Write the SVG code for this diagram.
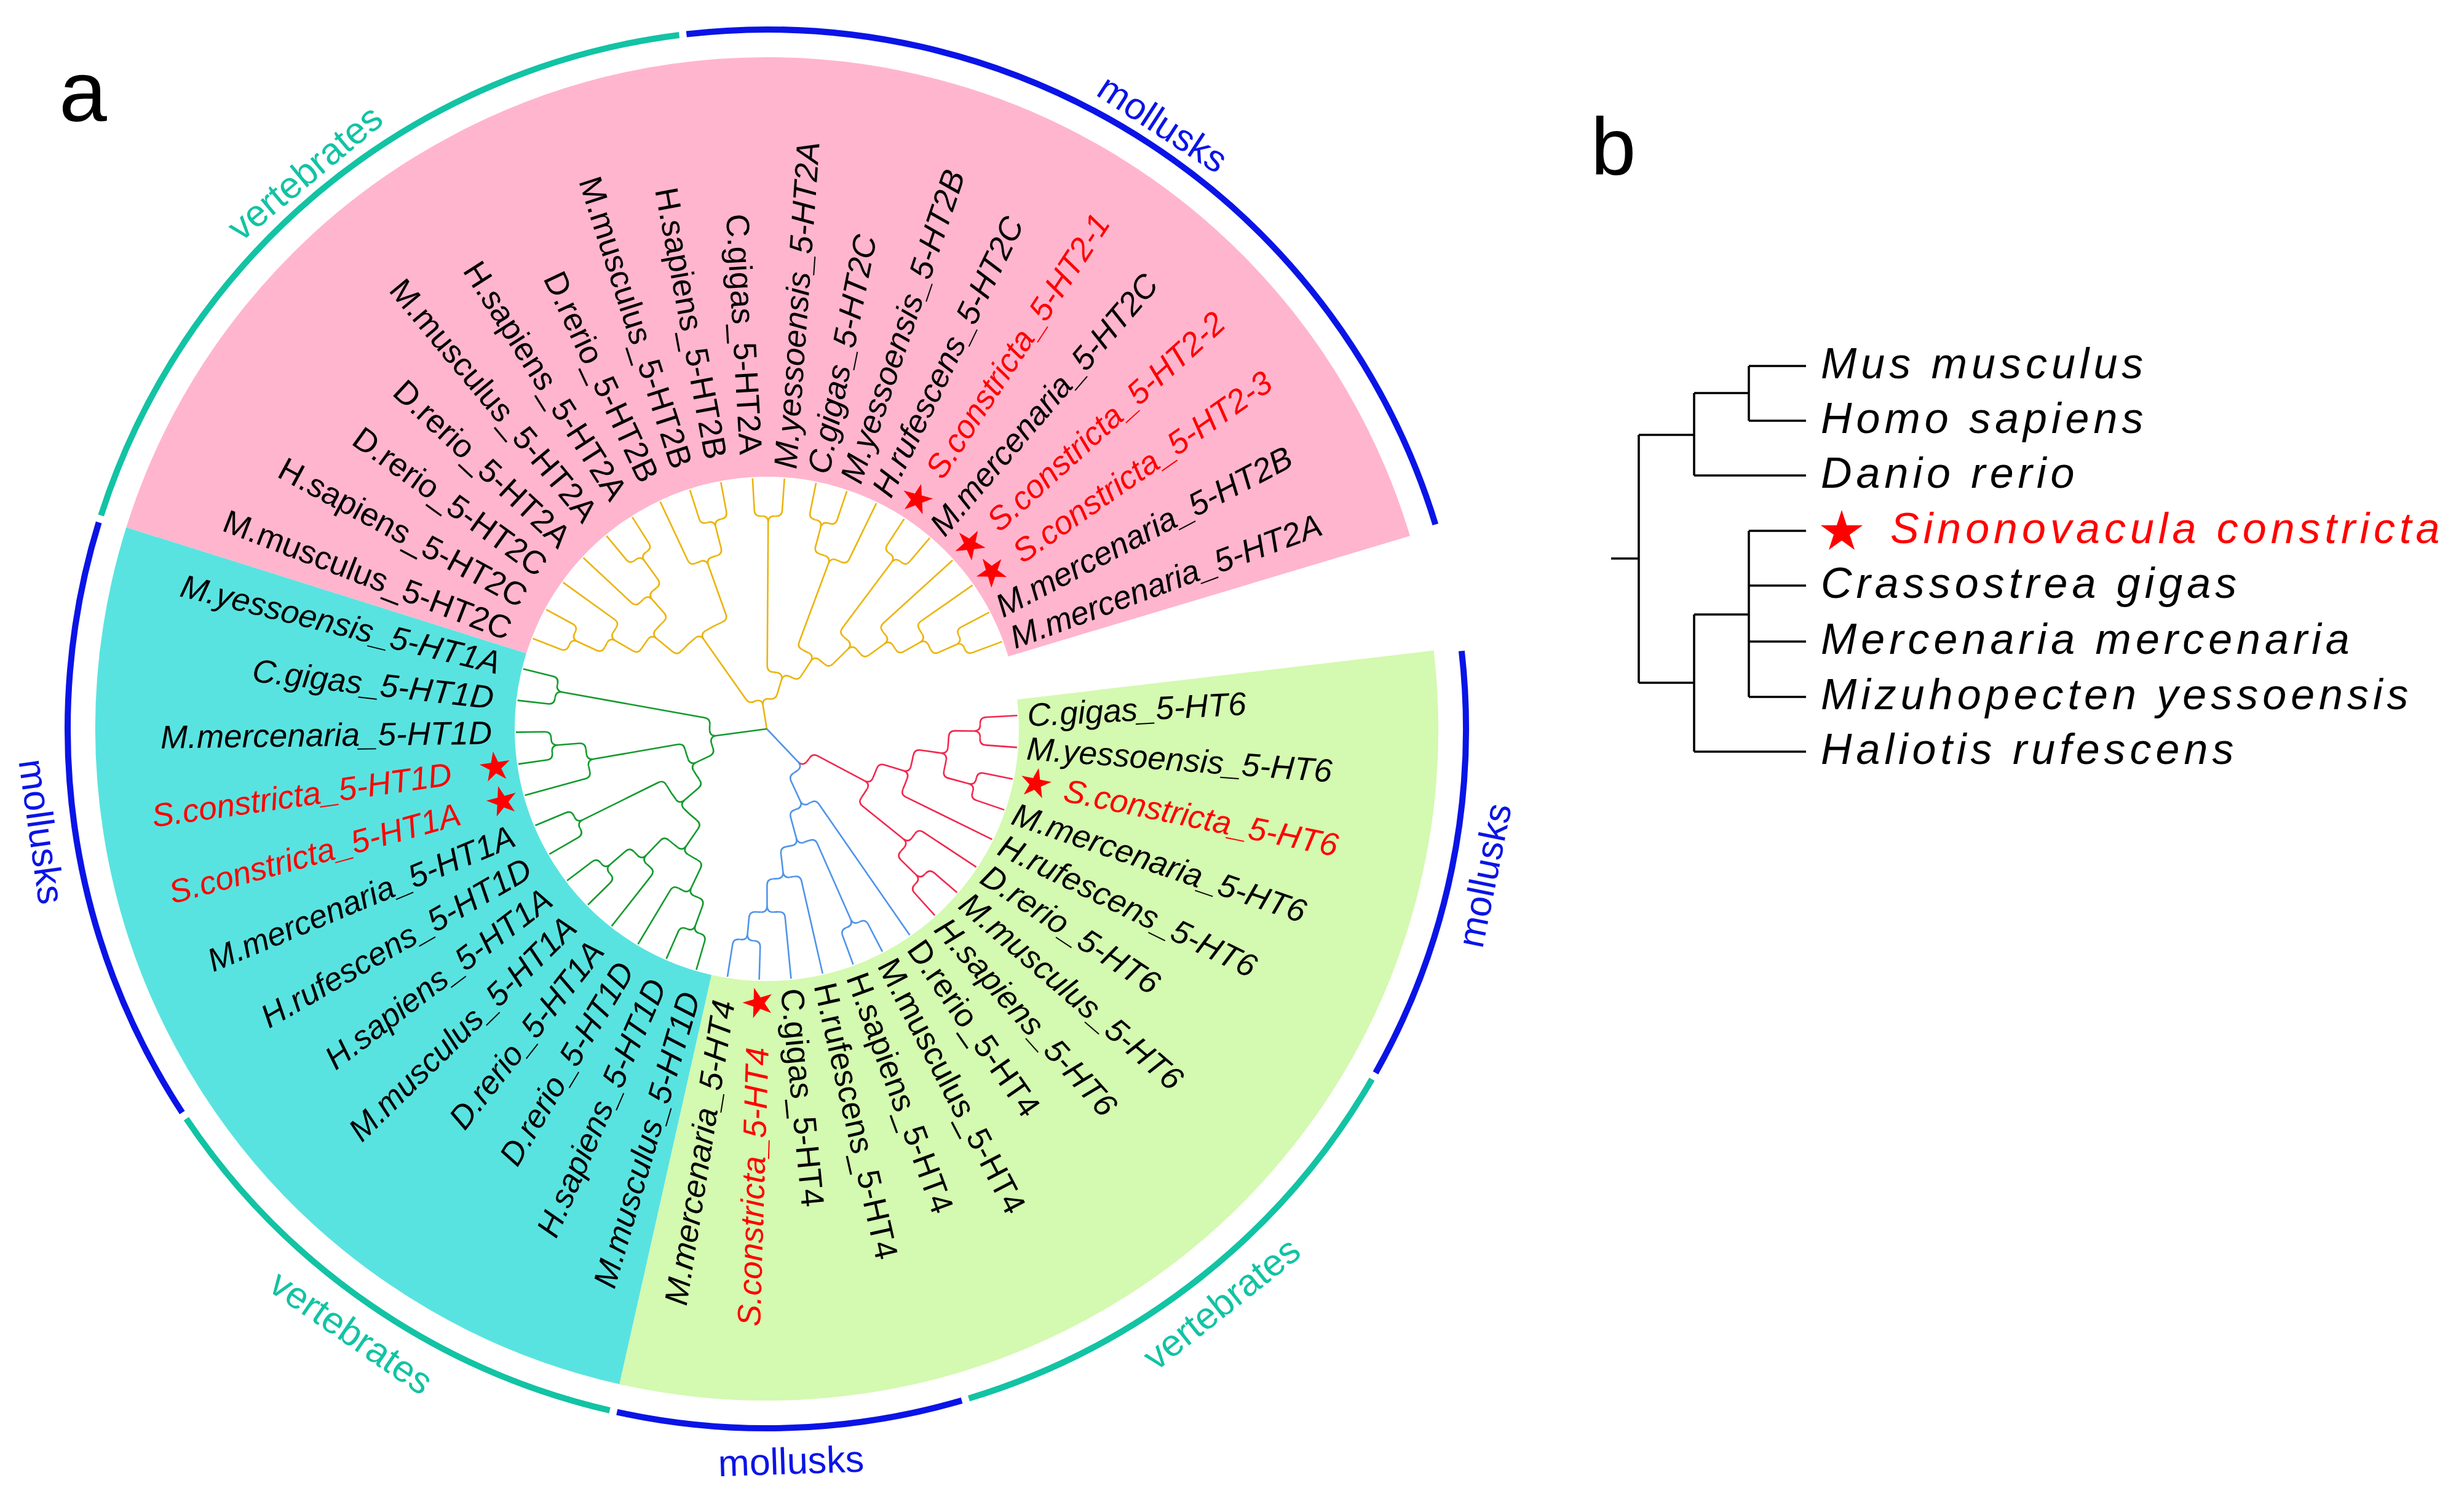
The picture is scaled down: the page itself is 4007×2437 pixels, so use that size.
<svg xmlns="http://www.w3.org/2000/svg" xmlns:xlink="http://www.w3.org/1999/xlink" width="4007" height="2437" viewBox="0 0 4007 2437">
<style>
text{font-family:"Liberation Sans",Arial,sans-serif}
.lab{font-size:53px}
.it{font-style:italic}
.red{fill:#FF0000}
.cn path,.cn circle{fill:none;stroke-width:2.6}
.y path,.y circle{stroke:#EBB40C}
.g path,.g circle{stroke:#139A2E}
.r path,.r circle{stroke:#F2284E}
.bl path,.bl circle{stroke:#4F94EA}
.band{fill:none;stroke-width:682}
.ring{fill:none;stroke-width:10}
.rl{font-size:61px;text-anchor:middle}
.pb{stroke:#000;stroke-width:3.6;fill:none}
.bt{font-size:70px;font-style:italic;letter-spacing:7px}
</style>
<defs>
<path id="star" d="M0,-26L5.84,-8.03L24.73,-8.03L9.44,3.07L15.28,21.03L0,9.93L-15.28,21.03L-9.44,3.07L-24.73,-8.03L-5.84,-8.03Z" fill="#FF0000"/>
</defs>
<rect width="4007" height="2437" fill="#FFFFFF"/>
<text x="96" y="197" font-size="140">a</text>
<text x="2587" y="284" font-size="132">b</text>
<g id="panel-a" transform="translate(1247 1185)">
<g id="bands">
<circle class="band" r="751" stroke="#D4F9B0" pathLength="360" stroke-dasharray="109.38 400" transform="rotate(-6.7)"/>
<circle class="band" r="751" stroke="#59E3E0" pathLength="360" stroke-dasharray="94.79 400" transform="rotate(102.68)"/>
<circle class="band" r="751" stroke="#FFB5CE" pathLength="360" stroke-dasharray="145.83 400" transform="rotate(197.47)"/>
</g>
<g id="ring">
<circle class="ring" r="1137" stroke="#0A14E6" pathLength="360" stroke-dasharray="35.86 400" transform="rotate(-6.4)"/>
<circle class="ring" r="1137" stroke="#12C3A4" pathLength="360" stroke-dasharray="43.15 400" transform="rotate(30.06)"/>
<circle class="ring" r="1137" stroke="#0A14E6" pathLength="360" stroke-dasharray="28.57 400" transform="rotate(73.81)"/>
<circle class="ring" r="1137" stroke="#12C3A4" pathLength="360" stroke-dasharray="43.15 400" transform="rotate(102.98)"/>
<circle class="ring" r="1137" stroke="#0A14E6" pathLength="360" stroke-dasharray="50.44 400" transform="rotate(146.73)"/>
<circle class="ring" r="1137" stroke="#12C3A4" pathLength="360" stroke-dasharray="65.03 400" transform="rotate(197.77)"/>
<circle class="ring" r="1137" stroke="#0A14E6" pathLength="360" stroke-dasharray="79.6 400" transform="rotate(263.4)"/>
<text class="rl" fill="#12C3A4" x="0" y="-1155" transform="rotate(320.29)">vertebrates</text>
<text class="rl" fill="#0A14E6" x="0" y="-1155" transform="rotate(33.2)">mollusks</text>
<text class="rl" fill="#0A14E6" x="0" y="1212" transform="rotate(-78.47)">mollusks</text>
<text class="rl" fill="#12C3A4" x="0" y="1212" transform="rotate(-38.37)">vertebrates</text>
<text class="rl" fill="#0A14E6" x="0" y="1212" transform="rotate(-1.9)">mollusks</text>
<text class="rl" fill="#12C3A4" x="0" y="1212" transform="rotate(34.55)">vertebrates</text>
<text class="rl" fill="#0A14E6" x="0" y="1212" transform="rotate(81.95)">mollusks</text>
</g>
<g id="connectors" class="cn">
<g class="y">
<path transform="rotate(260.76)" d="M0 0L39 0Q49 0 48-10M39 0Q49 0 48 10"/>
<path transform="rotate(234.84)" d="M48 10Q49 0 59 0L178 0Q188 0 188-10M178 0Q188 0 188 10"/>
<path transform="rotate(219.34)" d="M188 10Q188 0 198 0L232 0Q242 0 242-10M232 0Q242 0 242 10"/>
<path transform="rotate(210.23)" d="M242 10Q242 0 252 0L285 0Q295 0 295-10M285 0Q295 0 295 10"/>
<path transform="rotate(204.76)" d="M295 10Q295 0 305 0L339 0Q349 0 349-10M339 0Q349 0 349 10"/>
<path transform="rotate(201.11)" d="M349 10Q349 0 359 0L408 0"/>
<path transform="rotate(208.40)" d="M349-10Q349 0 359 0L408 0"/>
<path transform="rotate(215.70)" d="M295-10Q295 0 305 0L408 0"/>
<path transform="rotate(228.46)" d="M242-10Q242 0 252 0L281 0Q291 0 291-10M281 0Q291 0 291 10"/>
<path transform="rotate(222.99)" d="M291 10Q291 0 301 0L408 0"/>
<path transform="rotate(233.93)" d="M291-10Q291 0 301 0L338 0Q348 0 348-10M338 0Q348 0 348 10"/>
<path transform="rotate(230.28)" d="M348 10Q348 0 358 0L408 0"/>
<path transform="rotate(237.57)" d="M348-10Q348 0 358 0L408 0"/>
<path transform="rotate(250.33)" d="M188-10Q188 0 198 0L283 0Q293 0 293-10M283 0Q293 0 293 10"/>
<path transform="rotate(244.86)" d="M293 10Q293 0 303 0L408 0"/>
<path transform="rotate(255.80)" d="M293-10Q293 0 303 0L339 0Q349 0 349-10M339 0Q349 0 349 10"/>
<path transform="rotate(252.15)" d="M349 10Q349 0 359 0L408 0"/>
<path transform="rotate(259.45)" d="M349-10Q349 0 359 0L408 0"/>
<path transform="rotate(286.68)" d="M48-10Q49 0 59 0L83 0Q93 0 92.5-10M83 0Q93 0 92.5 10"/>
<path transform="rotate(270.38)" d="M92.5 10Q93 0 103 0L336 0Q346 0 346-10M336 0Q346 0 346 10"/>
<path transform="rotate(266.74)" d="M346 10Q346 0 356 0L408 0"/>
<path transform="rotate(274.03)" d="M346-10Q346 0 356 0L408 0"/>
<path transform="rotate(302.97)" d="M92.5-10Q93 0 103 0L131 0Q141 0 141-10M131 0Q141 0 141 10"/>
<path transform="rotate(290.44)" d="M141 10Q141 0 151 0L287 0Q297 0 297-10M287 0Q297 0 297 10"/>
<path transform="rotate(295.90)" d="M297-10Q297 0 307 0L408 0"/>
<path transform="rotate(284.97)" d="M297 10Q297 0 307 0L339 0Q349 0 349-10M339 0Q349 0 349 10"/>
<path transform="rotate(281.32)" d="M349 10Q349 0 359 0L408 0"/>
<path transform="rotate(288.61)" d="M349-10Q349 0 359 0L408 0"/>
<path transform="rotate(315.50)" d="M141-10Q141 0 151 0L185 0Q195 0 195-10M185 0Q195 0 195 10"/>
<path transform="rotate(306.84)" d="M195 10Q195 0 205 0L338 0Q348 0 348-10M338 0Q348 0 348 10"/>
<path transform="rotate(303.20)" d="M348 10Q348 0 358 0L408 0"/>
<path transform="rotate(310.49)" d="M348-10Q348 0 358 0L408 0"/>
<path transform="rotate(324.16)" d="M195-10Q195 0 205 0L236 0Q246 0 246-10M236 0Q246 0 246 10"/>
<path transform="rotate(317.78)" d="M246 10Q246 0 256 0L408 0"/>
<path transform="rotate(330.54)" d="M246-10Q246 0 256 0L286 0Q296 0 296-10M286 0Q296 0 296 10"/>
<path transform="rotate(325.07)" d="M296 10Q296 0 306 0L408 0"/>
<path transform="rotate(336.01)" d="M296-10Q296 0 306 0L337 0Q347 0 347-10M337 0Q347 0 347 10"/>
<path transform="rotate(332.36)" d="M347 10Q347 0 357 0L408 0"/>
<path transform="rotate(339.65)" d="M347-10Q347 0 357 0L408 0"/>
<circle r="49" pathLength="360" transform="rotate(246.53)" stroke-dasharray="2.54 23.38 2.54 400"/>
<circle r="188" pathLength="360" transform="rotate(222.39)" stroke-dasharray="9.4 6.1 9.4 400"/>
<circle r="242" pathLength="360" transform="rotate(212.60)" stroke-dasharray="4.38 4.74 4.38 400"/>
<circle r="295" pathLength="360" transform="rotate(206.70)" stroke-dasharray="1.59 3.88 1.59 400"/>
<circle r="349" pathLength="360" transform="rotate(202.75)" stroke-dasharray="0.37 3.28 0.37 400"/>
<circle r="291" pathLength="360" transform="rotate(224.96)" stroke-dasharray="1.53 3.94 1.53 400"/>
<circle r="348" pathLength="360" transform="rotate(231.93)" stroke-dasharray="0.35 3.3 0.35 400"/>
<circle r="293" pathLength="360" transform="rotate(246.82)" stroke-dasharray="1.55 3.92 1.55 400"/>
<circle r="349" pathLength="360" transform="rotate(253.79)" stroke-dasharray="0.37 3.28 0.37 400"/>
<circle r="93" pathLength="360" transform="rotate(276.54)" stroke-dasharray="3.98 12.32 3.98 400"/>
<circle r="346" pathLength="360" transform="rotate(268.40)" stroke-dasharray="0.33 3.32 0.33 400"/>
<circle r="141" pathLength="360" transform="rotate(294.50)" stroke-dasharray="4.41 8.12 4.41 400"/>
<circle r="297" pathLength="360" transform="rotate(286.90)" stroke-dasharray="1.61 3.86 1.61 400"/>
<circle r="349" pathLength="360" transform="rotate(282.96)" stroke-dasharray="0.37 3.28 0.37 400"/>
<circle r="195" pathLength="360" transform="rotate(309.78)" stroke-dasharray="2.78 5.88 2.78 400"/>
<circle r="348" pathLength="360" transform="rotate(304.85)" stroke-dasharray="0.35 3.3 0.35 400"/>
<circle r="246" pathLength="360" transform="rotate(320.11)" stroke-dasharray="1.72 4.66 1.72 400"/>
<circle r="296" pathLength="360" transform="rotate(327.01)" stroke-dasharray="1.59 3.88 1.59 400"/>
<circle r="347" pathLength="360" transform="rotate(334.01)" stroke-dasharray="0.35 3.3 0.35 400"/>
</g>
<g class="g">
<path transform="rotate(172.40)" d="M0 0L83 0Q93 0 92.5-10M83 0Q93 0 92.5 10"/>
<path transform="rotate(190.18)" d="M92.5-10Q93 0 103 0L338 0Q348 0 348-10M338 0Q348 0 348 10"/>
<path transform="rotate(186.53)" d="M348 10Q348 0 358 0L408 0"/>
<path transform="rotate(193.82)" d="M348-10Q348 0 358 0L408 0"/>
<path transform="rotate(154.63)" d="M92.5 10Q93 0 103 0L127 0Q137 0 137-10M127 0Q137 0 137 10"/>
<path transform="rotate(170.12)" d="M137-10Q137 0 147 0L286 0Q296 0 296-10M286 0Q296 0 296 10"/>
<path transform="rotate(164.65)" d="M296 10Q296 0 306 0L408 0"/>
<path transform="rotate(175.59)" d="M296-10Q296 0 306 0L341 0Q351 0 351-10M341 0Q351 0 351 10"/>
<path transform="rotate(171.95)" d="M351 10Q351 0 361 0L408 0"/>
<path transform="rotate(179.24)" d="M351-10Q351 0 361 0L408 0"/>
<path transform="rotate(139.13)" d="M137 10Q137 0 147 0L177 0Q187 0 187-10M177 0Q187 0 187 10"/>
<path transform="rotate(153.72)" d="M187-10Q187 0 197 0L334 0Q344 0 344-10M334 0Q344 0 344 10"/>
<path transform="rotate(150.07)" d="M344 10Q344 0 354 0L408 0"/>
<path transform="rotate(157.36)" d="M344-10Q344 0 354 0L408 0"/>
<path transform="rotate(124.55)" d="M187 10Q187 0 197 0L231 0Q241 0 241-10M231 0Q241 0 241 10"/>
<path transform="rotate(133.67)" d="M241-10Q241 0 251 0L284 0Q294 0 294-10M284 0Q294 0 294 10"/>
<path transform="rotate(128.20)" d="M294 10Q294 0 304 0L408 0"/>
<path transform="rotate(139.13)" d="M294-10Q294 0 304 0L337 0Q347 0 347-10M337 0Q347 0 347 10"/>
<path transform="rotate(135.49)" d="M347 10Q347 0 357 0L408 0"/>
<path transform="rotate(142.78)" d="M347-10Q347 0 357 0L408 0"/>
<path transform="rotate(115.44)" d="M241 10Q241 0 251 0L286 0Q296 0 296-10M286 0Q296 0 296 10"/>
<path transform="rotate(120.90)" d="M296-10Q296 0 306 0L408 0"/>
<path transform="rotate(109.97)" d="M296 10Q296 0 306 0L340 0Q350 0 350-10M340 0Q350 0 350 10"/>
<path transform="rotate(106.32)" d="M350 10Q350 0 360 0L408 0"/>
<path transform="rotate(113.61)" d="M350-10Q350 0 360 0L408 0"/>
<circle r="93" pathLength="360" transform="rotate(160.79)" stroke-dasharray="5.46 12.32 5.46 400"/>
<circle r="348" pathLength="360" transform="rotate(188.18)" stroke-dasharray="0.35 3.3 0.35 400"/>
<circle r="137" pathLength="360" transform="rotate(143.31)" stroke-dasharray="7.14 8.36 7.14 400"/>
<circle r="296" pathLength="360" transform="rotate(166.59)" stroke-dasharray="1.59 3.88 1.59 400"/>
<circle r="351" pathLength="360" transform="rotate(173.58)" stroke-dasharray="0.39 3.26 0.39 400"/>
<circle r="187" pathLength="360" transform="rotate(127.61)" stroke-dasharray="8.47 6.12 8.47 400"/>
<circle r="344" pathLength="360" transform="rotate(151.74)" stroke-dasharray="0.31 3.34 0.31 400"/>
<circle r="241" pathLength="360" transform="rotate(117.82)" stroke-dasharray="4.36 4.76 4.36 400"/>
<circle r="294" pathLength="360" transform="rotate(130.15)" stroke-dasharray="1.57 3.9 1.57 400"/>
<circle r="347" pathLength="360" transform="rotate(137.14)" stroke-dasharray="0.35 3.3 0.35 400"/>
<circle r="296" pathLength="360" transform="rotate(111.91)" stroke-dasharray="1.59 3.88 1.59 400"/>
<circle r="350" pathLength="360" transform="rotate(107.96)" stroke-dasharray="0.37 3.28 0.37 400"/>
</g>
<g class="r">
<path transform="rotate(46.51)" d="M74 0Q84 0 83.5-10"/>
<path transform="rotate(27.94)" d="M83.5 10Q84 0 94 0L180 0Q190 0 190-10M180 0Q190 0 190 10"/>
<path transform="rotate(17.00)" d="M190 10Q190 0 200 0L232 0Q242 0 242-10M232 0Q242 0 242 10"/>
<path transform="rotate(26.11)" d="M242-10Q242 0 252 0L408 0"/>
<path transform="rotate(7.88)" d="M242 10Q242 0 252 0L286 0Q296 0 296-10M286 0Q296 0 296 10"/>
<path transform="rotate(0.59)" d="M296 10Q296 0 306 0L337 0Q347 0 347-10M337 0Q347 0 347 10"/>
<path transform="rotate(-3.05)" d="M347 10Q347 0 357 0L408 0"/>
<path transform="rotate(4.24)" d="M347-10Q347 0 357 0L408 0"/>
<path transform="rotate(15.18)" d="M296-10Q296 0 306 0L340 0Q350 0 350-10M340 0Q350 0 350 10"/>
<path transform="rotate(11.53)" d="M350 10Q350 0 360 0L408 0"/>
<path transform="rotate(18.82)" d="M350-10Q350 0 360 0L408 0"/>
<path transform="rotate(38.87)" d="M190-10Q190 0 200 0L285 0Q295 0 295-10M285 0Q295 0 295 10"/>
<path transform="rotate(33.40)" d="M295 10Q295 0 305 0L408 0"/>
<path transform="rotate(44.34)" d="M295-10Q295 0 305 0L339 0Q349 0 349-10M339 0Q349 0 349 10"/>
<path transform="rotate(40.70)" d="M349 10Q349 0 359 0L408 0"/>
<path transform="rotate(47.99)" d="M349-10Q349 0 359 0L408 0"/>
<circle r="84" pathLength="360" transform="rotate(34.76)" stroke-dasharray="4.93 400"/>
<circle r="190" pathLength="360" transform="rotate(20.02)" stroke-dasharray="4.9 6.04 4.9 400"/>
<circle r="242" pathLength="360" transform="rotate(10.25)" stroke-dasharray="4.38 4.74 4.38 400"/>
<circle r="296" pathLength="360" transform="rotate(2.53)" stroke-dasharray="3.41 3.88 3.41 400"/>
<circle r="347" pathLength="360" transform="rotate(-1.40)" stroke-dasharray="0.35 3.3 0.35 400"/>
<circle r="350" pathLength="360" transform="rotate(13.17)" stroke-dasharray="0.37 3.28 0.37 400"/>
<circle r="295" pathLength="360" transform="rotate(35.34)" stroke-dasharray="1.59 3.88 1.59 400"/>
<circle r="349" pathLength="360" transform="rotate(42.34)" stroke-dasharray="0.37 3.28 0.37 400"/>
</g>
<g class="bl">
<path transform="rotate(46.51)" d="M0 0L74 0Q84 0 83.5 10"/>
<path transform="rotate(65.08)" d="M83.5-10Q84 0 94 0L129 0Q139 0 139-10M129 0Q139 0 139 10"/>
<path transform="rotate(55.28)" d="M139 10Q139 0 149 0L408 0"/>
<path transform="rotate(74.88)" d="M139-10Q139 0 149 0L184 0Q194 0 194-10M184 0Q194 0 194 10"/>
<path transform="rotate(66.22)" d="M194 10Q194 0 204 0L338 0Q348 0 348-10M338 0Q348 0 348 10"/>
<path transform="rotate(62.57)" d="M348 10Q348 0 358 0L408 0"/>
<path transform="rotate(69.86)" d="M348-10Q348 0 358 0L408 0"/>
<path transform="rotate(83.53)" d="M194-10Q194 0 204 0L234 0Q244 0 244-10M234 0Q244 0 244 10"/>
<path transform="rotate(77.15)" d="M244 10Q244 0 254 0L408 0"/>
<path transform="rotate(89.91)" d="M244-10Q244 0 254 0L288 0Q298 0 298-10M288 0Q298 0 298 10"/>
<path transform="rotate(84.45)" d="M298 10Q298 0 308 0L408 0"/>
<path transform="rotate(95.38)" d="M298-10Q298 0 308 0L335 0Q345 0 345-10M335 0Q345 0 345 10"/>
<path transform="rotate(91.74)" d="M345 10Q345 0 355 0L408 0"/>
<path transform="rotate(99.03)" d="M345-10Q345 0 355 0L408 0"/>
<circle r="84" pathLength="360" transform="rotate(53.33)" stroke-dasharray="4.93 400"/>
<circle r="139" pathLength="360" transform="rotate(59.40)" stroke-dasharray="1.56 8.24 1.56 400"/>
<circle r="194" pathLength="360" transform="rotate(69.17)" stroke-dasharray="2.76 5.9 2.76 400"/>
<circle r="348" pathLength="360" transform="rotate(64.22)" stroke-dasharray="0.35 3.3 0.35 400"/>
<circle r="244" pathLength="360" transform="rotate(79.50)" stroke-dasharray="1.68 4.7 1.68 400"/>
<circle r="298" pathLength="360" transform="rotate(86.37)" stroke-dasharray="1.63 3.84 1.63 400"/>
<circle r="345" pathLength="360" transform="rotate(93.40)" stroke-dasharray="0.33 3.32 0.33 400"/>
</g>
</g>
<g id="labels" class="lab">
<g id="n0" transform="rotate(-3.05)"><text class="it" x="424" dy=".35em">C.gigas_5-HT6</text></g>
<g id="n1" transform="rotate(4.24)"><text class="it" x="424" dy=".35em">M.yessoensis_5-HT6</text></g>
<g id="n2" transform="rotate(11.53)"><use href="#star" x="446"/><text class="it red" x="494" dy=".35em">S.constricta_5-HT6</text></g>
<g id="n3" transform="rotate(18.82)"><text class="it" x="424" dy=".35em">M.mercenaria_5-HT6</text></g>
<g id="n4" transform="rotate(26.11)"><text class="it" x="424" dy=".35em">H.rufescens_5-HT6</text></g>
<g id="n5" transform="rotate(33.40)"><text class="it" x="424" dy=".35em">D.rerio_5-HT6</text></g>
<g id="n6" transform="rotate(40.70)"><text class="it" x="424" dy=".35em">M.musculus_5-HT6</text></g>
<g id="n7" transform="rotate(47.99)"><text class="it" x="424" dy=".35em">H.sapiens_5-HT6</text></g>
<g id="n8" transform="rotate(55.28)"><text x="424" dy=".35em">D.rerio_5-HT4</text></g>
<g id="n9" transform="rotate(62.57)"><text x="424" dy=".35em">M.musculus_5-HT4</text></g>
<g id="n10" transform="rotate(69.86)"><text x="424" dy=".35em">H.sapiens_5-HT4</text></g>
<g id="n11" transform="rotate(77.15)"><text x="424" dy=".35em">H.rufescens_5-HT4</text></g>
<g id="n12" transform="rotate(84.45)"><text x="424" dy=".35em">C.gigas_5-HT4</text></g>
<g id="n13" transform="rotate(-88.26)"><use href="#star" x="-446"/><text class="it red" x="-518" dy=".35em" text-anchor="end">S.constricta_5-HT4</text></g>
<g id="n14" transform="rotate(-80.97)"><text class="it" x="-447" dy=".35em" text-anchor="end">M.mercenaria_5-HT4</text></g>
<g id="n15" transform="rotate(-73.68)"><text class="it" x="-447" dy=".35em" text-anchor="end">M.musculus_5-HT1D</text></g>
<g id="n16" transform="rotate(-66.39)"><text class="it" x="-447" dy=".35em" text-anchor="end">H.sapiens_5-HT1D</text></g>
<g id="n17" transform="rotate(-59.10)"><text class="it" x="-447" dy=".35em" text-anchor="end">D.rerio_5-HT1D</text></g>
<g id="n18" transform="rotate(-51.80)"><text class="it" x="-447" dy=".35em" text-anchor="end">D.rerio_5-HT1A</text></g>
<g id="n19" transform="rotate(-44.51)"><text class="it" x="-447" dy=".35em" text-anchor="end">M.musculus_5-HT1A</text></g>
<g id="n20" transform="rotate(-37.22)"><text class="it" x="-447" dy=".35em" text-anchor="end">H.sapiens_5-HT1A</text></g>
<g id="n21" transform="rotate(-29.93)"><text class="it" x="-447" dy=".35em" text-anchor="end">H.rufescens_5-HT1D</text></g>
<g id="n22" transform="rotate(-22.64)"><text class="it" x="-447" dy=".35em" text-anchor="end">M.mercenaria_5-HT1A</text></g>
<g id="n23" transform="rotate(-15.35)"><use href="#star" x="-446"/><text class="it red" x="-518" dy=".35em" text-anchor="end">S.constricta_5-HT1A</text></g>
<g id="n24" transform="rotate(-8.05)"><use href="#star" x="-446"/><text class="it red" x="-518" dy=".35em" text-anchor="end">S.constricta_5-HT1D</text></g>
<g id="n25" transform="rotate(-0.76)"><text class="it" x="-447" dy=".35em" text-anchor="end">M.mercenaria_5-HT1D</text></g>
<g id="n26" transform="rotate(6.53)"><text class="it" x="-447" dy=".35em" text-anchor="end">C.gigas_5-HT1D</text></g>
<g id="n27" transform="rotate(13.82)"><text class="it" x="-447" dy=".35em" text-anchor="end">M.yessoensis_5-HT1A</text></g>
<g id="n28" transform="rotate(21.11)"><text x="-447" dy=".35em" text-anchor="end">M.musculus_5-HT2C</text></g>
<g id="n29" transform="rotate(28.40)"><text x="-447" dy=".35em" text-anchor="end">H.sapiens_5-HT2C</text></g>
<g id="n30" transform="rotate(35.70)"><text x="-447" dy=".35em" text-anchor="end">D.rerio_5-HT2C</text></g>
<g id="n31" transform="rotate(42.99)"><text x="-447" dy=".35em" text-anchor="end">D.rerio_5-HT2A</text></g>
<g id="n32" transform="rotate(50.28)"><text x="-447" dy=".35em" text-anchor="end">M.musculus_5-HT2A</text></g>
<g id="n33" transform="rotate(57.57)"><text x="-447" dy=".35em" text-anchor="end">H.sapiens_5-HT2A</text></g>
<g id="n34" transform="rotate(64.86)"><text x="-447" dy=".35em" text-anchor="end">D.rerio_5-HT2B</text></g>
<g id="n35" transform="rotate(72.15)"><text x="-447" dy=".35em" text-anchor="end">M.musculus_5-HT2B</text></g>
<g id="n36" transform="rotate(79.45)"><text x="-447" dy=".35em" text-anchor="end">H.sapiens_5-HT2B</text></g>
<g id="n37" transform="rotate(86.74)"><text x="-447" dy=".35em" text-anchor="end">C.gigas_5-HT2A</text></g>
<g id="n38" transform="rotate(274.03)"><text class="it" x="424" dy=".35em">M.yessoensis_5-HT2A</text></g>
<g id="n39" transform="rotate(281.32)"><text class="it" x="424" dy=".35em">C.gigas_5-HT2C</text></g>
<g id="n40" transform="rotate(288.61)"><text class="it" x="424" dy=".35em">M.yessoensis_5-HT2B</text></g>
<g id="n41" transform="rotate(295.90)"><text class="it" x="424" dy=".35em">H.rufescens_5-HT2C</text></g>
<g id="n42" transform="rotate(303.20)"><use href="#star" x="446"/><text class="it red" x="494" dy=".35em">S.constricta_5-HT2-1</text></g>
<g id="n43" transform="rotate(310.49)"><text class="it" x="424" dy=".35em">M.mercenaria_5-HT2C</text></g>
<g id="n44" transform="rotate(317.78)"><use href="#star" x="446"/><text class="it red" x="494" dy=".35em">S.constricta_5-HT2-2</text></g>
<g id="n45" transform="rotate(325.07)"><use href="#star" x="446"/><text class="it red" x="494" dy=".35em">S.constricta_5-HT2-3</text></g>
<g id="n46" transform="rotate(332.36)"><text class="it" x="424" dy=".35em">M.mercenaria_5-HT2B</text></g>
<g id="n47" transform="rotate(339.65)"><text class="it" x="424" dy=".35em">M.mercenaria_5-HT2A</text></g>
</g>
</g>
<g id="panel-b">
<g id="b-connectors" class="pb">
<path d="M2620 908H2665M2665 707V1110M2665 707H2755M2755 639V773M2755 639H2844M2844 595V684M2844 595H2937M2844 684H2937M2755 773H2937M2665 1110H2755M2755 999V1222M2755 999H2844M2844 863V1133M2844 863H2937M2844 952H2937M2844 1043H2937M2844 1133H2937M2755 1222H2937"/>
</g>
<g id="b-mus"><text class="bt" x="2961" y="615">Mus musculus</text></g>
<g id="b-homo"><text class="bt" x="2961" y="704">Homo sapiens</text></g>
<g id="b-danio"><text class="bt" x="2961" y="793">Danio rerio</text></g>
<g id="b-sino"><use href="#star" transform="translate(2995 865) scale(1.38)"/><text class="bt red" x="3074" y="883">Sinonovacula constricta</text></g>
<g id="b-crass"><text class="bt" x="2961" y="972">Crassostrea gigas</text></g>
<g id="b-merc"><text class="bt" x="2961" y="1063">Mercenaria mercenaria</text></g>
<g id="b-mizu"><text class="bt" x="2961" y="1153">Mizuhopecten yessoensis</text></g>
<g id="b-hali"><text class="bt" x="2961" y="1242">Haliotis rufescens</text></g>
</g>
</svg>
